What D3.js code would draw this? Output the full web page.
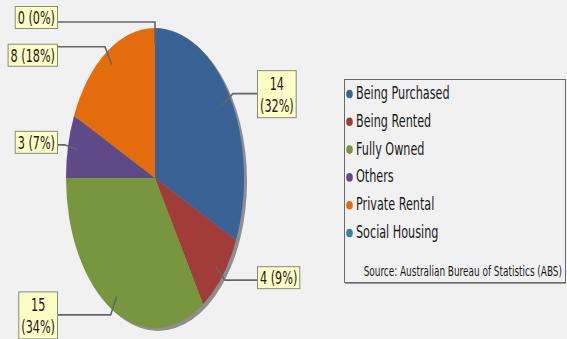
<!DOCTYPE html>
<html>
<head>
<meta charset="utf-8">
<script src="https://cdn.jsdelivr.net/npm/d3@7/dist/d3.min.js"></script>
<style>
  html, body { margin: 0; padding: 0; background: #f1f1f1; }
  svg { display: block; }
  text { font-family: "DejaVu Sans", sans-serif; fill: #1a1a1a; }
</style>
</head>
<body>
<svg id="chart" width="567" height="339"></svg>
<script>
// Household tenure breakdown
const categories = ["Being Purchased", "Being Rented", "Fully Owned", "Others", "Private Rental", "Social Housing"];
const counts = [14, 4, 15, 3, 8, 0];
const colors = ["#396395", "#a23c39", "#77963d", "#5e4a89", "#e46c0b", "#31859c"];
const sourceNote = "Source: Australian Bureau of Statistics (ABS)";

// small vertical offsets of the callout boxes relative to their leader elbows
const calloutNudge = { "Being Purchased": 0, "Being Rented": -3, "Fully Owned": 0, "Others": -3, "Private Rental": 8, "Social Housing": -5 };

const W = 567, H = 339;
const cx = 155, cy = 178, rx = 89, ry = 150;
const textScale = 0.66;   // narrow text rendering
const labelSize = 17;

const svg = d3.select("#chart");
const total = d3.sum(counts);
const data = categories.map((c, i) => ({ cat: c, value: counts[i], color: colors[i] }));

const pie = d3.pie().sort(null).value(d => d.value);
const arcs = pie(data);
const arc = d3.arc().innerRadius(0).outerRadius(ry);

// drop shadow under the pie
svg.append("ellipse")
  .attr("cx", cx + 3).attr("cy", cy + 3)
  .attr("rx", rx).attr("ry", ry)
  .attr("fill", "#8e8e8e");

const pieG = svg.append("g")
  .attr("transform", `translate(${cx},${cy}) scale(${rx / ry},1)`);

pieG.selectAll("path")
  .data(arcs.filter(a => a.value > 0))
  .join("path")
  .attr("d", arc)
  .attr("fill", d => d.data.color);

// point on the elliptical pie at angle a (clockwise from 12 o'clock), radius fraction k
function pt(a, k) {
  return [cx + rx * k * Math.sin(a), cy - ry * k * Math.cos(a)];
}

function narrowText(g, x, y, str, size, anchor) {
  return g.append("g").attr("transform", `translate(${x},${y}) scale(${textScale},1)`)
    .append("text")
    .attr("font-size", size)
    .attr("text-anchor", anchor)
    .attr("dominant-baseline", "central")
    .text(str);
}

// callouts
const calloutG = svg.append("g");
const lineH = 22;
arcs.forEach(a => {
  const mid = (a.startAngle + a.endAngle) / 2;
  const pct = Math.round(a.value / total * 100);
  const lines = a.value >= 10 ? [String(a.value), `(${pct}%)`] : [`${a.value} (${pct}%)`];
  const anchorPt = pt(mid, 0.9);
  const elbow = pt(mid, 1.04);
  const right = Math.sin(mid) > 1e-6;
  const boxEdgeX = right ? 257 : 57;

  // measure the widest line
  const probe = svg.append("text").attr("font-size", labelSize)
    .text(lines.reduce((m, s) => s.length > m.length ? s : m, ""));
  const tw = probe.node().getComputedTextLength() * textScale;
  probe.remove();
  const bw = tw + 5;
  const bh = lines.length === 1 ? 22 : 47;
  const bcy = elbow[1] + calloutNudge[a.data.cat];
  const bx = right ? boxEdgeX : boxEdgeX - bw;

  calloutG.append("path")
    .attr("d", d3.line()([anchorPt, elbow, [boxEdgeX, elbow[1]]]))
    .attr("fill", "none")
    .attr("stroke", "#666")
    .attr("stroke-width", 1.6);

  calloutG.append("rect")
    .attr("x", bx + 0.5).attr("y", bcy - bh / 2 + 0.5)
    .attr("width", bw).attr("height", bh)
    .attr("fill", "#fdfdc6")
    .attr("stroke", "#8a8a7a")
    .attr("stroke-width", 1);

  lines.forEach((s, i) => {
    const ty = bcy + (i - (lines.length - 1) / 2) * lineH + 1;
    narrowText(calloutG, bx + bw / 2 + 0.5, ty, s, labelSize, "middle");
  });
});

// legend
const lg = svg.append("g");
const lx = 344, ly = 79, lw = 221, lh = 203;
lg.append("rect")
  .attr("x", lx + 0.5).attr("y", ly + 0.5)
  .attr("width", lw).attr("height", lh)
  .attr("fill", "none")
  .attr("stroke", "#6b6b6b")
  .attr("stroke-width", 1);
lg.append("line")
  .attr("x1", lx + 1).attr("x2", lx + lw + 1)
  .attr("y1", ly + lh + 1.5).attr("y2", ly + lh + 1.5)
  .attr("stroke", "#9a9a9a").attr("stroke-width", 1);

const rowY = d3.scalePoint().domain(categories).range([93, 232]);
categories.forEach((c, i) => {
  const y = rowY(c);
  lg.append("ellipse")
    .attr("cx", 349.5).attr("cy", y + 1)
    .attr("rx", 3.3).attr("ry", 4.3)
    .attr("fill", colors[i]);
  narrowText(lg, 356, y, c, labelSize, "start");
});
narrowText(lg, 562, 271, sourceNote, 13.5, "end");
</script>
</body>
</html>
